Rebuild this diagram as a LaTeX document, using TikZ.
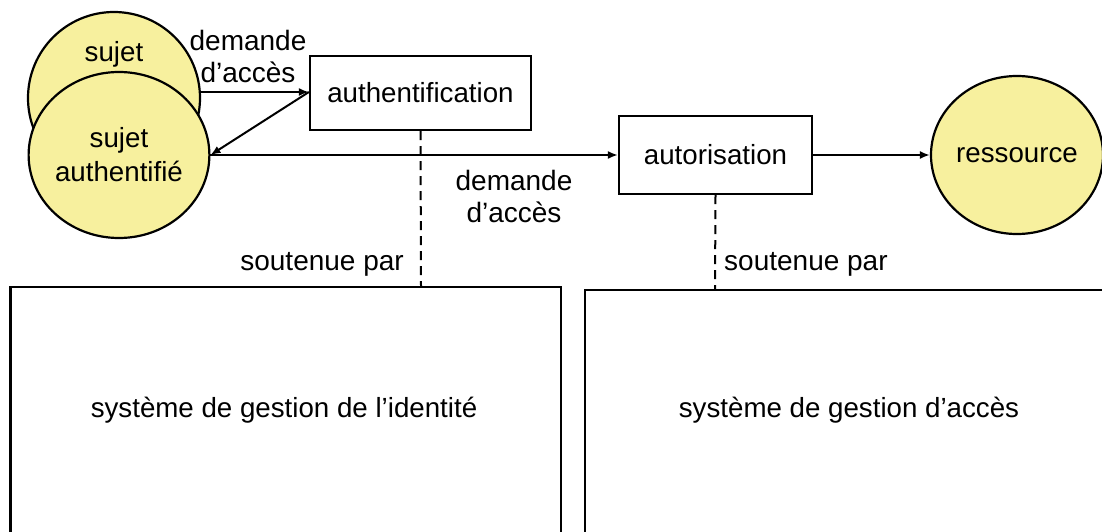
\documentclass[tikz,border=0pt]{standalone}
\usepackage{fontspec}
\setmainfont{Liberation Sans}
\usetikzlibrary{shapes.geometric,arrows.meta}
\definecolor{pale}{HTML}{F7F09E}
\begin{document}
\begin{tikzpicture}[x=1pt,y=-1pt,
  every node/.style={font=\fontsize{27.7}{33}\selectfont, inner sep=0pt},
  blob/.style={ellipse, draw, line width=2.2pt, fill=pale, align=center},
  procbox/.style={rectangle, draw, line width=2.2pt, fill=white},
  sysbox/.style={rectangle, draw, line width=2.2pt},
  flow/.style={line width=2pt, -{Latex[length=10pt,width=8pt]}},
  link/.style={line width=2pt, dash pattern=on 9pt off 6pt},
  lbl/.style={align=center, font=\fontsize{28}{32}\selectfont}]
\useasboundingbox (0,0) rectangle (1102,532);

% support systems (their lower edges run off the page)
\draw[sysbox] (10.5,545) -- (10.5,287) -- (561,287) -- (561,545);
\node (idsys) at (284,410) {système de gestion de l’identité};
\draw[sysbox] (585,545) -- (585,290) -- (1110,290);
\node (acsys) at (849,410) {système de gestion d’accès};
\coordinate (idtop) at (421,287);
\coordinate (actop) at (715,290);

% subject circles
\node[blob, minimum width=172pt, minimum height=172pt] (sujet) at (114,98) {};
\node at (114,54) {sujet};
\node[blob, minimum width=168pt, minimum height=166pt] (auth) at (119,155)
  {sujet\\[1pt]authentifié};

% process boxes
\node[procbox, minimum width=221pt, minimum height=74pt] (authn) at (420.5,93) {authentification};
\node[procbox, minimum width=193pt, minimum height=78pt] (autor) at (715.5,155) {autorisation};

% resource
\node[blob, minimum width=168pt, minimum height=158pt] (res) at (1017,155) {ressource};

% flows
\draw[flow] (sujet.east |- 0,92) -- (authn.west |- 0,92);
\draw[flow] (authn.west |- 0,92) -- (auth.east);
\draw[flow] (auth.east) -- (autor.west);
\draw[flow] (autor.east) -- (res.west);

% support links
\draw[link] (authn.south) -- (idtop);
\draw[link] (autor.south) -- (actop);

% labels
\node[lbl] (lab1) at (248,56) {demande\\d’accès};
\node[lbl] (lab2) at (514,196) {demande\\d’accès};
\node[lbl, anchor=east] (lab3) at (404,264) {soutenue par};
\node[lbl, anchor=west] (lab4) at (724,264) {soutenue par};
\end{tikzpicture}
\end{document}
